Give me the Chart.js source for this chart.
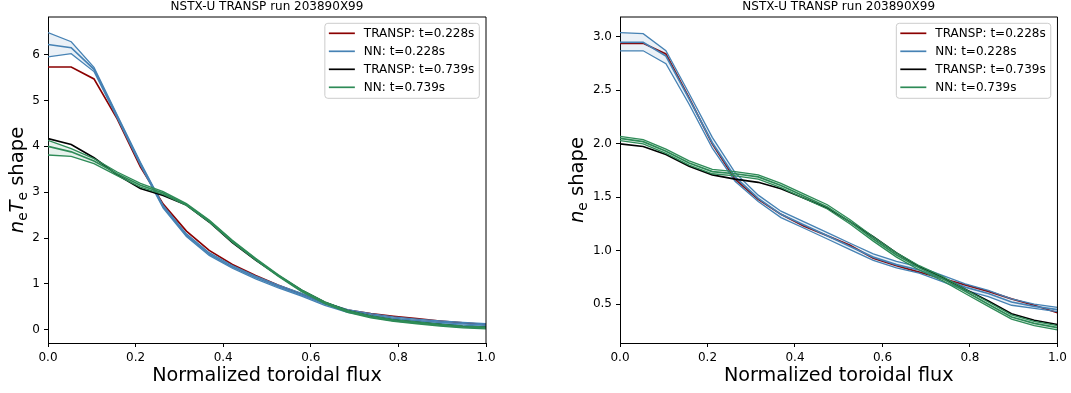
<!DOCTYPE html>
<html>
<head>
<meta charset="utf-8">
<script src="https://cdn.jsdelivr.net/npm/chart.js@4"></script>
<style>
  html, body { margin: 0; padding: 0; background: #fff; }
  #wrap { position: relative; width: 1071px; height: 393px; }
  .panel { position: absolute; top: 0; height: 393px; }
  #left { left: 0; width: 535px; }
  #right { left: 535px; width: 536px; }
</style>
</head>
<body>
<div id="wrap">
  <div class="panel" id="left"><canvas id="chartP"></canvas></div>
  <div class="panel" id="right"><canvas id="chartN"></canvas></div>
</div>
<script>
// normalized toroidal flux grid
const rho = [0.000, 0.053, 0.105, 0.158, 0.211, 0.263, 0.316, 0.368, 0.421, 0.474,
             0.526, 0.579, 0.632, 0.684, 0.737, 0.789, 0.842, 0.895, 0.947, 1.000];

// n_e T_e shape
const pTransp228 = [5.73, 5.73, 5.47, 4.60, 3.55, 2.74, 2.15, 1.73, 1.42, 1.18, 0.97, 0.78, 0.58, 0.43, 0.35, 0.29, 0.24, 0.19, 0.15, 0.11];
const pNN228     = [6.22, 6.15, 5.68, 4.65, 3.62, 2.68, 2.06, 1.65, 1.37, 1.14, 0.94, 0.76, 0.56, 0.41, 0.32, 0.25, 0.20, 0.16, 0.13, 0.10];
const pNN228Hi   = [6.48, 6.28, 5.72, 4.68, 3.65, 2.71, 2.09, 1.68, 1.40, 1.17, 0.97, 0.79, 0.59, 0.44, 0.35, 0.28, 0.23, 0.19, 0.16, 0.13];
const pNN228Lo   = [5.95, 6.02, 5.63, 4.62, 3.59, 2.65, 2.03, 1.62, 1.34, 1.11, 0.91, 0.73, 0.53, 0.38, 0.29, 0.22, 0.17, 0.13, 0.10, 0.07];
const pTransp739 = [4.17, 4.04, 3.75, 3.38, 3.08, 2.93, 2.72, 2.35, 1.90, 1.52, 1.18, 0.86, 0.60, 0.41, 0.29, 0.21, 0.16, 0.11, 0.07, 0.05];
const pNN739     = [4.00, 3.88, 3.68, 3.40, 3.15, 2.98, 2.73, 2.37, 1.93, 1.54, 1.18, 0.85, 0.59, 0.40, 0.28, 0.20, 0.15, 0.10, 0.06, 0.04];
const pNN739Hi   = [4.13, 3.95, 3.73, 3.44, 3.19, 3.01, 2.75, 2.39, 1.95, 1.56, 1.20, 0.87, 0.61, 0.42, 0.30, 0.22, 0.17, 0.12, 0.08, 0.06];
const pNN739Lo   = [3.81, 3.78, 3.62, 3.36, 3.11, 2.95, 2.71, 2.35, 1.91, 1.52, 1.16, 0.83, 0.57, 0.38, 0.26, 0.18, 0.13, 0.08, 0.04, 0.02];

// n_e shape
const nTransp228 = [2.94, 2.94, 2.84, 2.43, 2.00, 1.67, 1.48, 1.34, 1.23, 1.14, 1.05, 0.93, 0.86, 0.80, 0.74, 0.68, 0.62, 0.55, 0.49, 0.42];
const nNN228     = [2.95, 2.95, 2.82, 2.42, 2.01, 1.69, 1.49, 1.34, 1.24, 1.14, 1.04, 0.94, 0.87, 0.82, 0.74, 0.66, 0.60, 0.52, 0.48, 0.45];
const nNN228Hi   = [3.04, 3.03, 2.87, 2.47, 2.06, 1.73, 1.52, 1.37, 1.27, 1.17, 1.07, 0.97, 0.90, 0.85, 0.77, 0.69, 0.63, 0.55, 0.50, 0.47];
const nNN228Lo   = [2.87, 2.87, 2.75, 2.37, 1.96, 1.65, 1.46, 1.31, 1.21, 1.11, 1.01, 0.91, 0.84, 0.79, 0.71, 0.63, 0.57, 0.49, 0.46, 0.43];
const nTransp739 = [2.00, 1.975, 1.90, 1.79, 1.71, 1.67, 1.64, 1.58, 1.49, 1.40, 1.27, 1.13, 0.98, 0.85, 0.75, 0.64, 0.53, 0.41, 0.35, 0.31];
const nNN739     = [2.05, 2.02, 1.93, 1.82, 1.74, 1.72, 1.69, 1.61, 1.51, 1.41, 1.27, 1.11, 0.96, 0.84, 0.74, 0.62, 0.50, 0.38, 0.32, 0.28];
const nNN739Hi   = [2.07, 2.04, 1.95, 1.84, 1.76, 1.74, 1.71, 1.63, 1.53, 1.43, 1.29, 1.13, 0.98, 0.86, 0.76, 0.64, 0.52, 0.40, 0.34, 0.30];
const nNN739Lo   = [2.03, 2.00, 1.91, 1.80, 1.72, 1.70, 1.67, 1.59, 1.49, 1.39, 1.25, 1.09, 0.94, 0.82, 0.72, 0.60, 0.48, 0.36, 0.30, 0.26];

const xTicks = [0.0, 0.2, 0.4, 0.6, 0.8, 1.0];
const pTicks = [0, 1, 2, 3, 4, 5, 6];
const nTicks = [0.5, 1.0, 1.5, 2.0, 2.5, 3.0];
const legendLabels = ['TRANSP: t=0.228s', 'NN: t=0.228s', 'TRANSP: t=0.739s', 'NN: t=0.739s'];
const panelTitle = 'NSTX-U TRANSP run 203890X99';
const xTitle = 'Normalized toroidal flux';

const RED = '#8b0000', BLUE = '#4682b4', BLACK = '#000000', GREEN = '#2e8b57';
const FONT = "'DejaVu Sans', sans-serif";

const pts = ys => rho.map((x, i) => ({ x, y: ys[i] }));

function line(label, ys, color, order, width, extra) {
  return Object.assign({ label, data: pts(ys), borderColor: color, borderWidth: width, order,
    pointRadius: 0, tension: 0, fill: false }, extra || {});
}

// axes frame, title, math y label, legend
const decor = {
  id: 'decor',
  afterDraw(chart) {
    const { ctx, chartArea: a } = chart;
    const o = chart.options.plugins.decor;
    ctx.save();
    ctx.strokeStyle = '#000';
    ctx.lineWidth = 1;
    ctx.beginPath();
    ctx.moveTo(a.left, a.top); ctx.lineTo(a.right, a.top); ctx.lineTo(a.right, a.bottom);
    ctx.stroke();

    ctx.fillStyle = '#000';
    ctx.font = `12px ${FONT}`;
    ctx.textAlign = 'center';
    ctx.textBaseline = 'alphabetic';
    ctx.fillText(panelTitle, (a.left + a.right) / 2, 10);

    // y label
    ctx.save();
    ctx.translate(o.yLabelX, (a.top + a.bottom) / 2);
    ctx.rotate(-Math.PI / 2);
    ctx.textAlign = 'left';
    let total = 0;
    o.yLabel.forEach(s => { ctx.font = s.font; s.w = ctx.measureText(s.t).width; total += s.w; });
    let pos = -total / 2;
    o.yLabel.forEach(s => { ctx.font = s.font; ctx.fillText(s.t, pos, s.dy || 0); pos += s.w; });
    ctx.restore();

    // legend
    ctx.font = `12px ${FONT}`;
    const tw = Math.max(...legendLabels.map(t => ctx.measureText(t).width));
    const bw = 39 + tw + 5, bh = 75;
    const bx = a.right - 6.7 - bw, by = a.top + 6.3;
    ctx.beginPath();
    ctx.roundRect(bx, by, bw, bh, 3);
    ctx.fillStyle = 'rgba(255,255,255,0.8)';
    ctx.fill();
    ctx.strokeStyle = '#cccccc';
    ctx.stroke();
    const cols = [RED, BLUE, BLACK, GREEN];
    ctx.textAlign = 'left';
    ctx.textBaseline = 'middle';
    legendLabels.forEach((t, i) => {
      const y = by + 10 + i * 18;
      ctx.strokeStyle = cols[i];
      ctx.lineWidth = 1.7;
      ctx.beginPath(); ctx.moveTo(bx + 4, y); ctx.lineTo(bx + 30, y); ctx.stroke();
      ctx.fillStyle = '#000';
      ctx.fillText(t, bx + 39, y + 0.5);
    });
    ctx.restore();
  }
};

function makeChart(id, s, cfg) {
  const datasets = [
    line(legendLabels[0], s.t228, RED, 8, 1.7),
    line('hi', s.nn228Hi, BLUE, 7, 1.3, { fill: '+1', backgroundColor: 'rgba(70,130,180,0.11)' }),
    line('lo', s.nn228Lo, BLUE, 6, 1.3),
    line(legendLabels[1], s.nn228, BLUE, 5, 1.7),
    line(legendLabels[2], s.t739, BLACK, 4, 1.7),
    line('hi', s.nn739Hi, GREEN, 3, 1.3, { fill: '+1', backgroundColor: 'rgba(46,139,87,0.11)' }),
    line('lo', s.nn739Lo, GREEN, 2, 1.3),
    line(legendLabels[3], s.nn739, GREEN, 1, 1.7)
  ];
  const tickStyle = { font: { family: FONT, size: 12 }, color: '#000', padding: 4, maxRotation: 0, autoSkip: false };
  const gridStyle = { display: true, drawOnChartArea: false, drawTicks: true, tickLength: 4, tickWidth: 1, tickColor: '#000' };
  return new Chart(document.getElementById(id), {
    type: 'line',
    data: { datasets },
    options: {
      responsive: true, maintainAspectRatio: false, animation: false, events: [],
      layout: { padding: { left: 0, right: cfg.padRight, top: 17, bottom: 0 } },
      plugins: {
        legend: { display: false }, tooltip: { enabled: false },
        decor: { yLabel: cfg.yLabel, yLabelX: cfg.yLabelX }
      },
      scales: {
        x: {
          type: 'linear', min: 0, max: 1,
          afterBuildTicks: sc => { sc.ticks = xTicks.map(v => ({ value: v })); },
          afterFit: sc => { sc.height = 50; },
          ticks: Object.assign({ callback: v => v.toFixed(1) }, tickStyle),
          grid: gridStyle,
          border: { display: true, color: '#000', width: 1 },
          title: { display: true, text: xTitle, color: '#000', font: { family: FONT, size: 19.2 }, padding: { top: 0, bottom: 5 } }
        },
        y: {
          type: 'linear', min: cfg.yMin, max: cfg.yMax,
          afterBuildTicks: sc => { sc.ticks = cfg.yTicks.map(v => ({ value: v })); },
          afterFit: sc => { sc.width = cfg.yWidth; },
          ticks: Object.assign({ callback: cfg.yFmt }, tickStyle),
          grid: gridStyle,
          border: { display: true, color: '#000', width: 1 }
        }
      }
    },
    plugins: [decor]
  });
}

const big = `19.6px ${FONT}`, ital = `italic 19.6px ${FONT}`, sub = `13.7px ${FONT}`;

makeChart('chartP',
  { t228: pTransp228, nn228: pNN228, nn228Hi: pNN228Hi, nn228Lo: pNN228Lo,
    t739: pTransp739, nn739: pNN739, nn739Hi: pNN739Hi, nn739Lo: pNN739Lo },
  { yMin: -0.29, yMax: 6.82, yTicks: pTicks, yFmt: v => String(v), yWidth: 48, padRight: 49, yLabelX: 23,
    yLabel: [{ t: 'n', font: ital }, { t: 'e', font: sub, dy: 4 }, { t: 'T', font: ital }, { t: 'e', font: sub, dy: 4 }, { t: ' shape', font: big }] });

makeChart('chartN',
  { t228: nTransp228, nn228: nNN228, nn228Hi: nNN228Hi, nn228Lo: nNN228Lo,
    t739: nTransp739, nn739: nNN739, nn739Hi: nNN739Hi, nn739Lo: nNN739Lo },
  { yMin: 0.137, yMax: 3.186, yTicks: nTicks, yFmt: v => v.toFixed(1), yWidth: 85, padRight: 13, yLabelX: 47.7,
    yLabel: [{ t: 'n', font: ital }, { t: 'e', font: sub, dy: 4 }, { t: ' shape', font: big }] });
</script>
</body>
</html>
